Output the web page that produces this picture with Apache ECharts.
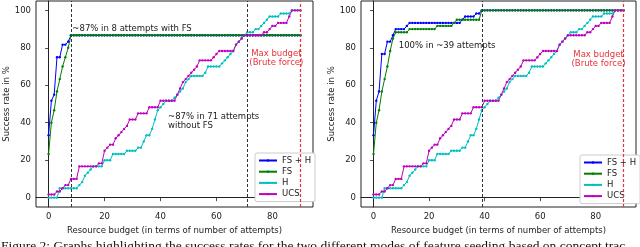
<!DOCTYPE html>
<html><head><meta charset="utf-8">
<script src="https://cdn.jsdelivr.net/npm/echarts@6/dist/echarts.min.js"></script>
<style>html,body{margin:0;padding:0;background:#fff;overflow:hidden}#c{width:640px;height:247px}</style>
</head><body><div id="c"></div><script>
// attempts 0..90
const attempts = [0,1,2,3,4,5,6,7,8,9,10,11,12,13,14,15,16,17,18,19,20,21,22,23,24,25,26,27,28,29,30,31,32,33,34,35,36,37,38,39,40,41,42,43,44,45,46,47,48,49,50,51,52,53,54,55,56,57,58,59,60,61,62,63,64,65,66,67,68,69,70,71,72,73,74,75,76,77,78,79,80,81,82,83,84,85,86,87,88,89,90];
const xTicks = [0,20,40,60,80];
const yTicks = [0,20,40,60,80,100];
const seriesNames = ['FS + H','FS','H','UCS'];

const leftFSH = [33.3,51.7,55,75,75,81.7,81.7,83.3,86.7,86.7,
 86.7,86.7,86.7,86.7,86.7,86.7,86.7,86.7,86.7,86.7,
 86.7,86.7,86.7,86.7,86.7,86.7,86.7,86.7,86.7,86.7,
 86.7,86.7,86.7,86.7,86.7,86.7,86.7,86.7,86.7,86.7,
 86.7,86.7,86.7,86.7,86.7,86.7,86.7,86.7,86.7,86.7,
 86.7,86.7,86.7,86.7,86.7,86.7,86.7,86.7,86.7,86.7,
 86.7,86.7,86.7,86.7,86.7,86.7,86.7,86.7,86.7,86.7,
 86.7,86.7,86.7,86.7,86.7,86.7,86.7,86.7,86.7,86.7,
 86.7,86.7,86.7,86.7,86.7,86.7,86.7,86.7,86.7,86.7,
 86.7];
const leftFS = [23.3,40,46.7,56.7,63.3,70,75,80,86.7,86.7,
 86.7,86.7,86.7,86.7,86.7,86.7,86.7,86.7,86.7,86.7,
 86.7,86.7,86.7,86.7,86.7,86.7,86.7,86.7,86.7,86.7,
 86.7,86.7,86.7,86.7,86.7,86.7,86.7,86.7,86.7,86.7,
 86.7,86.7,86.7,86.7,86.7,86.7,86.7,86.7,86.7,86.7,
 86.7,86.7,86.7,86.7,86.7,86.7,86.7,86.7,86.7,86.7,
 86.7,86.7,86.7,86.7,86.7,86.7,86.7,86.7,86.7,86.7,
 86.7,86.7,86.7,86.7,86.7,86.7,86.7,86.7,86.7,86.7,
 86.7,86.7,86.7,86.7,86.7,86.7,86.7,86.7,86.7,86.7,
 86.7];
const rightFSH = [33.3,51.7,56.7,76.7,76.7,83.3,83.3,86.7,90,90,
 90,90,91.7,93.3,93.3,93.3,93.3,93.3,93.3,93.3,
 93.3,93.3,93.3,93.3,93.3,93.3,93.3,93.3,93.3,93.3,
 93.3,93.3,95,96.7,96.7,96.7,96.7,98.3,98.3,100,
 100,100,100,100,100,100,100,100,100,100,
 100,100,100,100,100,100,100,100,100,100,
 100,100,100,100,100,100,100,100,100,100,
 100,100,100,100,100,100,100,100,100,100,
 100,100,100,100,100,100,100,100,100,100,
 100];
const rightFS = [23.3,40,46.7,56.7,63.3,70,78.3,85,88.3,88.3,
 88.3,88.3,88.3,90,90,90,90,90,90,90,
 90,90,90,91.7,91.7,91.7,91.7,91.7,91.7,93.3,
 95,95,95,95,95,95,95,95,95,100,
 100,100,100,100,100,100,100,100,100,100,
 100,100,100,100,100,100,100,100,100,100,
 100,100,100,100,100,100,100,100,100,100,
 100,100,100,100,100,100,100,100,100,100,
 100,100,100,100,100,100,100,100,100,100,
 100];
const hValues = [0,0,0,0,5,5,5,5,5,5,
 5,6.7,8.3,11.7,13.3,15,16.7,16.7,16.7,16.7,
 20,20,20,23.3,23.3,23.3,23.3,23.3,25,25,
 25,25,26.7,26.7,30,33.3,33.3,36.7,41.7,46.7,
 48.3,50,51.7,51.7,51.7,53.3,55,56.7,58.3,61.7,
 63.3,65,65,65,65,65,66.7,70,70,70,
 70,70,71.7,73.3,75,76.7,78.3,81.7,83.3,85,
 86.7,88.3,88.3,88.3,90,90,91.7,93.3,95,96.7,
 96.7,96.7,96.7,98.3,98.3,98.3,98.3,100,100,100,
 100];
const ucsValues = [1.7,1.7,1.7,3.3,3.3,5,6.7,6.7,10,10,
 10,16.7,16.7,16.7,16.7,16.7,16.7,16.7,18.3,18.3,
 25,26.7,28.3,28.3,31.7,33.3,35,36.7,38.3,41.7,
 41.7,41.7,45,45,45,45,48.3,48.3,48.3,48.3,
 51.7,51.7,51.7,51.7,51.7,51.7,55,58.3,61.7,63.3,
 65,66.7,68.3,70,73.3,73.3,73.3,73.3,73.3,75,
 76.7,78.3,78.3,78.3,78.3,78.3,78.3,81.7,83.3,85,
 86.7,86.7,86.7,86.7,86.7,86.7,86.7,88.3,88.3,90,
 91.7,91.7,93.3,93.3,93.3,93.3,96.7,100,100,100,
 100];

const leftMarks = [8, 71];
const rightMarks = [39];
const budgetMax = 90;

const colors = ['#0000ff','#008000','#00bfbf','#bf00bf'];
const FONT = 'DejaVu Sans';
const TXT = '#222';

function pairs(arr){ return attempts.map((x,i)=>[x, arr[i]]); }

function lineSeries(name, arr, color, gi){
  return {type:'line', name, xAxisIndex:gi, yAxisIndex:gi, data:pairs(arr),
    symbol:'circle', symbolSize:2.4, showSymbol:true, color,
    lineStyle:{width:1, color}, itemStyle:{color}, animation:false, silent:true, z:3};
}
function marks(gi, blackXs, notes){
  return {type:'line', xAxisIndex:gi, yAxisIndex:gi, data:[], silent:true, animation:false,
    markLine:{silent:true, symbol:['none','none'], animation:false, label:{show:false},
      data:[...blackXs.map(v=>({xAxis:v, lineStyle:{color:'#333', type:[3,2], width:1}})),
            {xAxis:budgetMax, lineStyle:{color:'#e8323a', type:[3,2], width:1.2}}]},
    markPoint:{silent:true, animation:false, symbol:'circle', symbolSize:0,
      data:notes.map(n=>({coord:n.c, label:{show:true, formatter:n.t, position:[0,0],
        align:n.a||'left', verticalAlign:'middle', fontFamily:FONT, fontSize:8.5,
        lineHeight:9.5, color:n.col||TXT}}))}
  };
}
function xAx(gi){
  return {type:'value', gridIndex:gi, min:-4.5, max:94.5,
    name:'Resource budget (in terms of number of attempts)', nameLocation:'middle', nameGap:12,
    nameTextStyle:{fontFamily:FONT, fontSize:8.5, color:TXT},
    axisLine:{show:true, lineStyle:{color:'#222', width:1}},
    axisTick:{show:true, length:3.5, customValues:xTicks, lineStyle:{color:'#222', width:0.8}},
    axisLabel:{customValues:xTicks, margin:5, fontFamily:FONT, fontSize:8.5, color:TXT},
    splitLine:{show:false}};
}
function yAx(gi){
  return {type:'value', gridIndex:gi, min:-5, max:105,
    name:'Success rate in %', nameLocation:'middle', nameGap:25,
    nameTextStyle:{fontFamily:FONT, fontSize:8.5, color:TXT},
    axisLine:{show:true, lineStyle:{color:'#222', width:1}},
    axisTick:{show:true, length:3.5, customValues:yTicks, lineStyle:{color:'#222', width:0.8}},
    axisLabel:{customValues:yTicks, margin:5, fontFamily:FONT, fontSize:8.5, color:TXT},
    splitLine:{show:false}};
}
function legendFor(left, top){
  return {left, top, orient:'vertical', data:seriesNames, selectedMode:false,
    itemWidth:18, itemHeight:3, itemGap:2.2, padding:[3,4,3,3],
    borderColor:'#ccc', borderWidth:1, borderRadius:2, backgroundColor:'#fff',
    textStyle:{fontFamily:FONT, fontSize:8.5, color:TXT}};
}

const chart = echarts.init(document.getElementById('c'), null, {renderer:'canvas'});
chart.setOption({
  backgroundColor:'#fff', animation:false,
  grid:[{left:36, top:1, width:277, height:206, show:true, borderColor:'#222', borderWidth:1},
        {left:361, top:1, width:275, height:206, show:true, borderColor:'#222', borderWidth:1}],
  xAxis:[xAx(0), xAx(1)],
  yAxis:[yAx(0), yAx(1)],
  legend:[legendFor(255,153), legendFor(580,155)],
  series:[
    lineSeries('FS + H', leftFSH, colors[0], 0),
    lineSeries('FS', leftFS, colors[1], 0),
    lineSeries('H', hValues, colors[2], 0),
    lineSeries('UCS', ucsValues, colors[3], 0),
    lineSeries('FS + H', rightFSH, colors[0], 1),
    lineSeries('FS', rightFS, colors[1], 1),
    lineSeries('H', hValues, colors[2], 1),
    lineSeries('UCS', ucsValues, colors[3], 1),
    marks(0, leftMarks, [
      {c:[8.5,90], t:'~87% in 8 attempts with FS'},
      {c:[42.7,40.8], t:'~87% in 71 attempts\nwithout FS'},
      {c:[81.4,74.5], t:'Max budget\n(Brute force)', a:'center', col:'#e8323a'}
    ]),
    marks(1, rightMarks, [
      {c:[9.1,81.1], t:'100% in ~39 attempts'},
      {c:[81,74], t:'Max budget\n(Brute force)', a:'center', col:'#e8323a'}
    ])
  ],
  graphic:[{type:'text', left:1, top:239, style:{text:'Figure 2: Graphs highlighting the success rates for the two different modes of feature seeding based on concept trac', fontFamily:'Liberation Serif', fontSize:13.5, fill:'#111'}}]
});
</script></body></html>
